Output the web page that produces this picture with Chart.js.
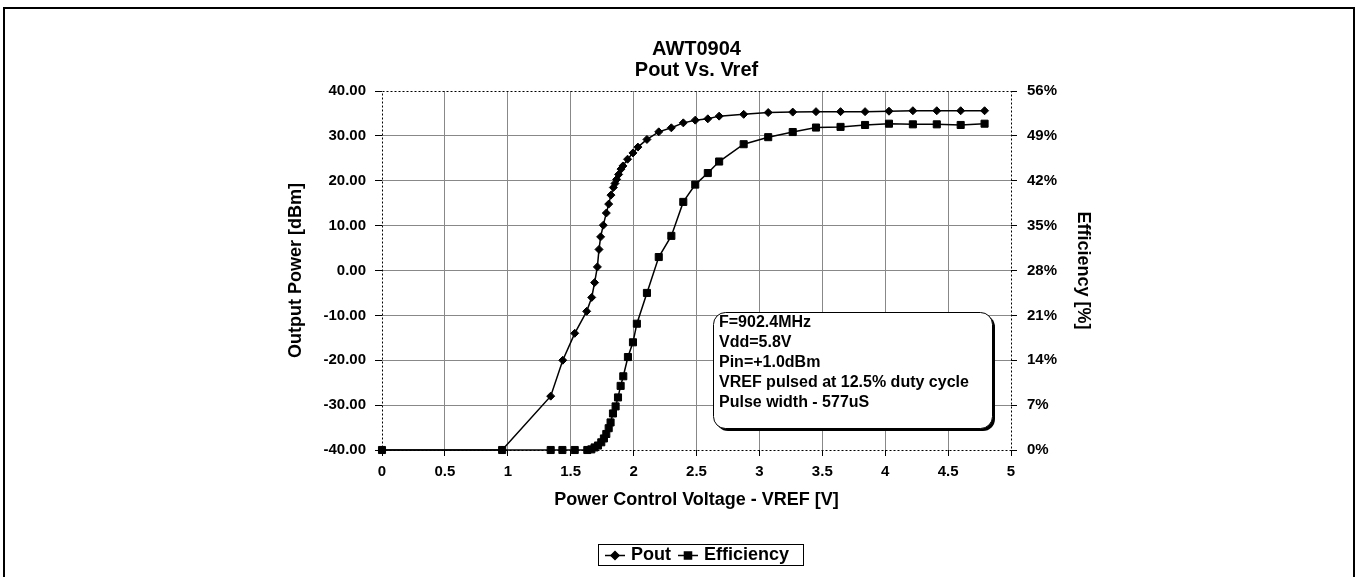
<!DOCTYPE html>
<html>
<head>
<meta charset="utf-8">
<title>AWT0904 Pout Vs. Vref</title>
<script src="https://cdn.jsdelivr.net/npm/chart.js@4.4.1/dist/chart.umd.min.js"></script>
<style>
    html, body { margin: 0; padding: 0; background: #fff; }
</style>
</head>
<body>
<canvas id="chartPout" width="1358" height="577"></canvas>
<script>
// values
var vrefPout = [0, 0.955, 1.341, 1.437, 1.532, 1.627, 1.667, 1.69, 1.712, 1.725, 1.738, 1.759, 1.783, 1.802, 1.82, 1.839, 1.852, 1.865, 1.881, 1.9, 1.915, 1.952, 1.995, 2.034, 2.106, 2.2, 2.3, 2.395, 2.49, 2.59, 2.68, 2.875, 3.07, 3.265, 3.45, 3.645, 3.84, 4.03, 4.22, 4.41, 4.6, 4.79];
var pout = [-40, -40, -28.0, -20.0, -14.0, -9.1, -6.0, -2.7, 0.8, 4.7, 7.5, 10.1, 12.8, 14.8, 16.8, 18.5, 19.4, 20.3, 21.4, 22.6, 23.3, 24.8, 26.2, 27.5, 29.2, 30.9, 31.8, 32.9, 33.5, 33.8, 34.4, 34.8, 35.2, 35.3, 35.4, 35.4, 35.4, 35.5, 35.6, 35.6, 35.6, 35.6];

var vrefEff = [0, 0.955, 1.341, 1.434, 1.532, 1.632, 1.664, 1.69, 1.717, 1.743, 1.764, 1.783, 1.802, 1.817, 1.836, 1.857, 1.876, 1.897, 1.918, 1.955, 1.995, 2.026, 2.106, 2.2, 2.3, 2.395, 2.49, 2.59, 2.68, 2.875, 3.07, 3.265, 3.45, 3.645, 3.84, 4.03, 4.22, 4.41, 4.6, 4.79];
var efficiency = [0, 0, 0, 0, 0, 0, 0.1, 0.4, 0.7, 1.2, 1.8, 2.5, 3.4, 4.3, 5.7, 6.8, 8.2, 10.0, 11.5, 14.5, 16.8, 19.7, 24.5, 30.1, 33.4, 38.7, 41.4, 43.2, 45.0, 47.7, 48.8, 49.6, 50.3, 50.4, 50.7, 50.9, 50.8, 50.8, 50.7, 50.9];

var seriesNames = ['Pout', 'Efficiency'];
var titleLines = ['AWT0904', 'Pout Vs. Vref'];
var noteLines = ['F=902.4MHz', 'Vdd=5.8V', 'Pin=+1.0dBm', 'VREF pulsed at 12.5% duty cycle', 'Pulse width - 577uS'];

var FONT = "'Liberation Sans', Arial, Helvetica, sans-serif";
Chart.defaults.font.family = FONT;
Chart.defaults.color = '#000';

var toPoints = function (xs, ys) {
    var pts = [];
    for (var i = 0; i < xs.length; i++) {
        pts.push({ x: xs[i], y: ys[i] });
    }
    return pts;
};

var gridColor = function (min, max) {
    return function (c) {
        if (c.tick && (c.tick.value === min || c.tick.value === max)) return 'rgba(0,0,0,0)';
        return '#888';
    };
};

// outer frame, dotted plot box, text box and boxed legend
var decorPlugin = {
    id: 'decor',
    beforeDraw: function (chart) {
        var c = chart.ctx;
        c.save();
        c.strokeStyle = '#000';
        c.lineWidth = 2;
        c.strokeRect(4, 8, 1350, 600);
        c.restore();
    },
    beforeDatasetsDraw: function (chart) {
        var a = chart.chartArea, c = chart.ctx;
        c.save();
        c.strokeStyle = '#000';
        c.lineWidth = 1;
        c.setLineDash([2, 2]);
        c.strokeRect(Math.round(a.left) + 0.5, Math.round(a.top) + 0.5, Math.round(a.right - a.left), Math.round(a.bottom - a.top));
        c.restore();
    },
    afterDatasetsDraw: function (chart) {
        var c = chart.ctx;
        var bx = 713, by = 312, bw = 279, bh = 116, r = 12;
        c.save();
        c.fillStyle = '#000';
        c.beginPath();
        c.roundRect(bx + 3, by + 3, bw, bh, r);
        c.fill();
        c.fillStyle = '#fff';
        c.strokeStyle = '#000';
        c.lineWidth = 1;
        c.beginPath();
        c.roundRect(bx + 0.5, by + 0.5, bw, bh, r);
        c.fill();
        c.stroke();
        c.font = 'bold 16px ' + FONT;
        c.fillStyle = '#000';
        c.textBaseline = 'middle';
        for (var i = 0; i < noteLines.length; i++) {
            c.fillText(noteLines[i], bx + 6, by + 11 + i * 20);
        }

        // legend
        var lx = 598, ly = 544, lw = 205, lh = 21;
        c.strokeStyle = '#000';
        c.lineWidth = 1;
        c.strokeRect(lx + 0.5, ly + 0.5, lw, lh);
        c.font = 'bold 18px ' + FONT;
        var x = lx + 7, yc = ly + lh / 2 + 1;
        var styles = ['rectRot', 'rect'];
        var radii = [4, 5];
        for (var k = 0; k < seriesNames.length; k++) {
            c.beginPath();
            c.lineWidth = 1.5;
            c.moveTo(x, yc);
            c.lineTo(x + 20, yc);
            c.stroke();
            c.fillStyle = '#000';
            Chart.helpers.drawPoint(c, { pointStyle: styles[k], radius: radii[k], borderWidth: 1 }, x + 10, yc);
            c.fillText(seriesNames[k], x + 26, yc);
            x += 26 + c.measureText(seriesNames[k]).width + 7;
        }
        c.restore();
    }
};

var ctx = document.getElementById('chartPout');
var myChart = new Chart(ctx, {
    type: 'scatter',
    data: {
        datasets: [
            {
                label: seriesNames[0],
                data: toPoints(vrefPout, pout),
                showLine: true,
                borderColor: '#000',
                backgroundColor: '#000',
                borderWidth: 1.5,
                pointStyle: 'rectRot',
                pointRadius: 4,
                pointBorderWidth: 1,
                tension: 0,
                yAxisID: 'y',
                order: 1,
                clip: 10
            },
            {
                label: seriesNames[1],
                data: toPoints(vrefEff, efficiency),
                showLine: true,
                borderColor: '#000',
                backgroundColor: '#000',
                borderWidth: 1.5,
                pointStyle: 'rect',
                pointRadius: 5,
                pointBorderWidth: 1,
                tension: 0,
                yAxisID: 'y1',
                order: 0,
                clip: 10
            }
        ]
    },
    options: {
        responsive: false,
        animation: false,
        events: [],
        layout: { padding: { left: 285, right: 250, top: 30, bottom: 66 } },
        plugins: {
            legend: { display: false },
            tooltip: { enabled: false },
            title: {
                display: true,
                text: titleLines,
                color: '#000',
                font: { size: 20, weight: 'bold', lineHeight: 1.05 },
                padding: { top: 9, bottom: 10 }
            }
        },
        scales: {
            x: {
                type: 'linear',
                min: 0,
                max: 5,
                ticks: {
                    stepSize: 0.5,
                    padding: 7,
                    font: { size: 15, weight: 'bold' },
                    callback: function (v) { return String(v); }
                },
                grid: { color: gridColor(0, 5), tickColor: '#000', tickLength: 6 },
                border: { display: false },
                title: {
                    display: true,
                    text: 'Power Control Voltage - VREF [V]',
                    font: { size: 18, weight: 'bold' },
                    padding: 0
                },
                afterFit: function (s) { s.height = 61; }
            },
            y: {
                position: 'left',
                min: -40,
                max: 40,
                ticks: {
                    stepSize: 10,
                    padding: 9,
                    font: { size: 15, weight: 'bold' },
                    callback: function (v) { return v.toFixed(2); }
                },
                grid: { color: gridColor(-40, 40), tickColor: '#000', tickLength: 7 },
                border: { display: false },
                title: {
                    display: true,
                    text: 'Output Power [dBm]',
                    font: { size: 18, weight: 'bold' },
                    padding: 0
                },
                afterFit: function (s) { s.width = 97; }
            },
            y1: {
                position: 'right',
                min: 0,
                max: 56,
                ticks: {
                    stepSize: 7,
                    padding: 10,
                    font: { size: 15, weight: 'bold' },
                    callback: function (v) { return v + '%'; }
                },
                grid: { drawOnChartArea: false, tickColor: '#000', tickLength: 6 },
                border: { display: false },
                title: {
                    display: true,
                    text: 'Efficiency [%]',
                    font: { size: 18, weight: 'bold' },
                    padding: { top: 14, bottom: 0 }
                },
                afterFit: function (s) { s.width = 97; }
            }
        }
    },
    plugins: [decorPlugin]
});
</script>
</body>
</html>
